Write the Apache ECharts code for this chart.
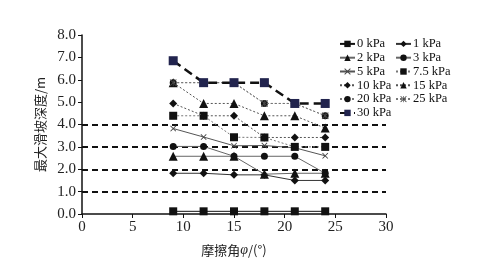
<!DOCTYPE html>
<html><head><meta charset="utf-8">
<script src="https://cdn.jsdelivr.net/npm/echarts@6/dist/echarts.min.js"></script>
<style>html,body{margin:0;padding:0;background:#fff}#c{width:478px;height:267px}</style>
</head><body><div id="c"></div>
<script>
const angles = [9, 12, 15, 18, 21, 24];
const xTicks = [0, 5, 10, 15, 20, 25, 30];
const yTicks = [0, 1, 2, 3, 4, 5, 6, 7, 8];
const refLines = [1, 2, 3, 4];
const names = ['0 kPa','1 kPa','2 kPa','3 kPa','5 kPa','7.5 kPa','10 kPa','15 kPa','20 kPa','25 kPa','30 kPa'];
const v0   = [0.12, 0.12, 0.12, 0.12, 0.12, 0.12];
const v1   = [1.82, 1.82, 1.75, 1.75, 1.50, 1.50];
const v2   = [2.58, 2.58, 2.58, 1.78, 1.82, 1.82];
const v3   = [3.02, 3.02, 2.58, 2.58, 2.58, 1.82];
const v5   = [3.82, 3.44, 3.05, 3.06, 2.96, 2.60];
const v7_5 = [4.39, 4.39, 3.43, 3.42, 3.00, 3.00];
const v10  = [4.94, 4.39, 4.39, 3.42, 3.42, 3.42];
const v15  = [5.87, 4.94, 4.94, 4.39, 4.39, 3.84];
const v20  = [5.87, 5.87, 5.87, 4.94, 4.94, 4.39];
const v25  = [5.87, 5.87, 5.87, 4.94, 4.94, 4.39];
const v30  = [6.85, 5.87, 5.87, 5.87, 4.94, 4.94];
const values = [v0, v1, v2, v3, v5, v7_5, v10, v15, v20, v25, v30];

const crossPath = 'path://M0,1L1,0L5,4L9,0L10,1L6,5L10,9L9,10L5,6L1,10L0,9L4,5Z';
const starPath = 'path://M0,1L1,0L5,4L9,0L10,1L6,5L10,9L9,10L5,6L1,10L0,9L4,5Z M4.5,0L5.5,0L5.5,10L4.5,10Z';
const styles = [
  {sym:'rect', size:8, col:'#111', lc:'#111', lw:1, lt:'solid'},
  {sym:'diamond', size:8, col:'#111', lc:'#333', lw:1, lt:'solid'},
  {sym:'triangle', size:9, col:'#111', lc:'#666', lw:1, lt:'solid'},
  {sym:'circle', size:7, col:'#111', lc:'#666', lw:1, lt:'solid'},
  {sym:crossPath, size:6, col:'#444', lc:'#555', lw:1, lt:'solid'},
  {sym:'rect', size:8, col:'#111', lc:'#777', lw:1, lt:[2,2]},
  {sym:'diamond', size:8, col:'#111', lc:'#555', lw:1, lt:[2,2]},
  {sym:'triangle', size:9, col:'#111', lc:'#555', lw:1, lt:[2,2]},
  {sym:'circle', size:7, col:'#111', lc:'#777', lw:1, lt:[2,2]},
  {sym:starPath, size:7, col:'#444', lc:'#777', lw:1, lt:[2,2]},
  {sym:'rect', size:9, col:'#22244e', lc:'#111', lw:2.5, lt:[9,5]}
];
const serif = 'Liberation Serif';
const series = names.map((n, i) => ({
  name: n, type: 'line', z: 3 + i,
  data: angles.map((a, j) => [a, values[i][j]]),
  symbol: styles[i].sym, symbolSize: styles[i].size,
  itemStyle: {color: styles[i].col},
  lineStyle: {color: styles[i].lc, width: styles[i].lw, type: styles[i].lt},
  animation: false
}));
series.push({
  name: 'ref', type: 'line', data: [], silent: true, z: 2,
  markLine: {
    silent: true, symbol: 'none', animation: false,
    label: {show: false},
    lineStyle: {color: '#111', width: 2, type: [6, 4]},
    data: refLines.map(v => ({yAxis: v}))
  }
});
const col1 = ['0 kPa','2 kPa','5 kPa','10 kPa','20 kPa','30 kPa'];
const col2 = ['1 kPa','3 kPa','7.5 kPa','15 kPa','25 kPa'];
const legendBase = {
  orient: 'vertical', itemWidth: 15, itemHeight: 8, itemGap: 0,
  textStyle: {fontFamily: serif, fontSize: 12.5, color: '#111', lineHeight: 13.8, padding: [0,0,0,-3]},
  padding: 0
};
const chart = echarts.init(document.getElementById('c'), null, {renderer: 'canvas'});
chart.setOption({
  animation: false,
  backgroundColor: '#fff',
  grid: {left: 82, right: 92, top: 35, bottom: 53},
  legend: [
    Object.assign({}, legendBase, {data: col1, left: 339, top: 37}),
    Object.assign({}, legendBase, {data: col2, left: 395, top: 37})
  ],
  xAxis: {
    type: 'value', min: 0, max: 30, interval: 5,
    name: '摩擦角{i|φ}/(°)', nameLocation: 'middle', nameGap: 29,
    nameTextStyle: {fontFamily: 'Noto Sans CJK SC', fontSize: 13, color: '#222',
      rich: {i: {fontFamily: serif, fontStyle: 'italic', fontSize: 14, color: '#222'}}},
    axisLine: {lineStyle: {color: '#111', width: 1.5}},
    axisTick: {show: true, inside: false, length: 4, lineStyle: {color: '#111'}},
    axisLabel: {fontFamily: serif, fontSize: 15, color: '#222', margin: 6,
      formatter: v => xTicks.includes(v) ? String(v) : ''},
    splitLine: {show: false}
  },
  yAxis: {
    type: 'value', min: 0, max: 8, interval: 1,
    name: '最大滑坡深度/m', nameLocation: 'middle', nameGap: 30, nameRotate: 90,
    nameTextStyle: {fontFamily: 'Noto Sans CJK SC', fontSize: 13, color: '#222'},
    axisLine: {show: true, lineStyle: {color: '#111', width: 1.5}},
    axisTick: {show: true, inside: false, length: 4, lineStyle: {color: '#111'}},
    axisLabel: {fontFamily: serif, fontSize: 15, color: '#222', margin: 6,
      formatter: v => yTicks.includes(v) ? v.toFixed(1) : ''},
    splitLine: {show: false}
  },
  series: series
});
</script></body></html>
